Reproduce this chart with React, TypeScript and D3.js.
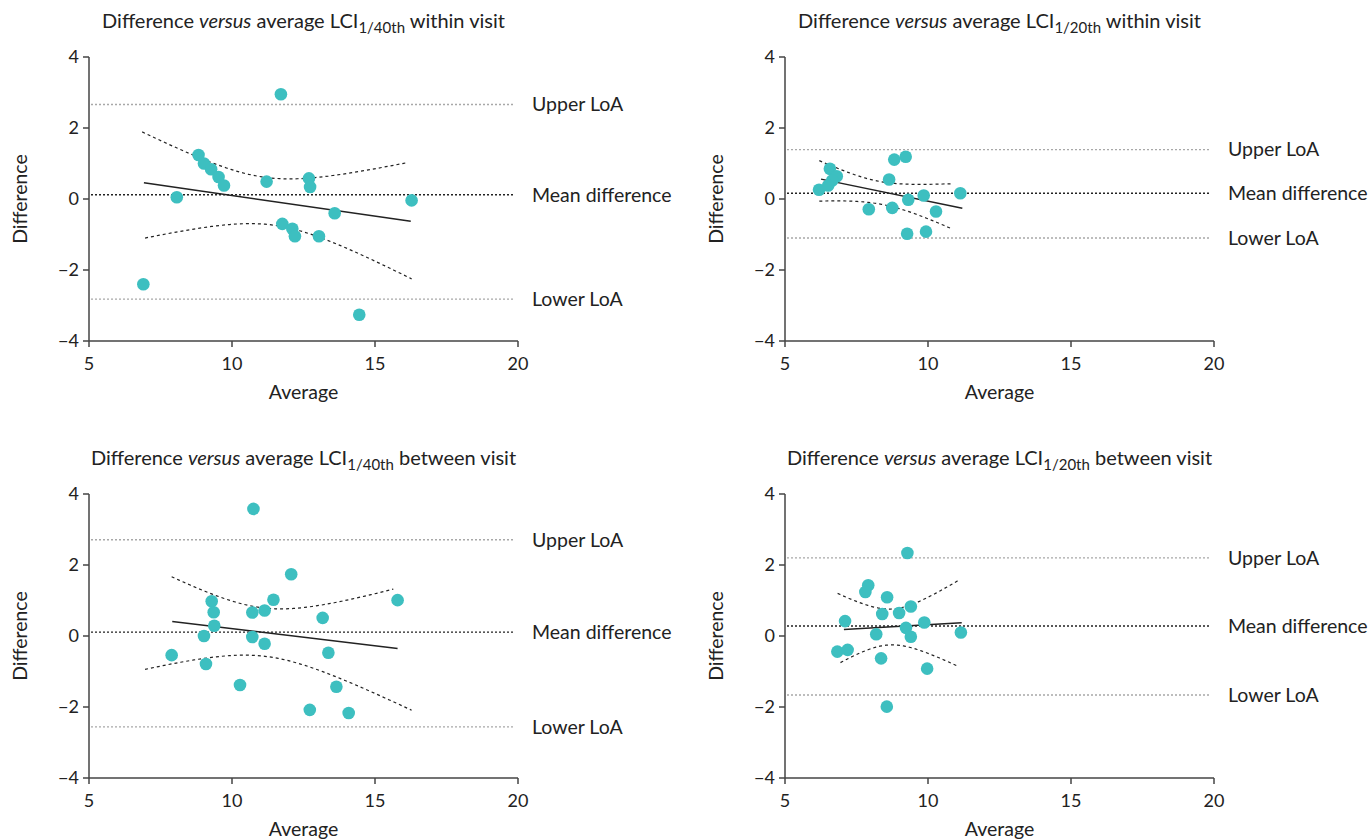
import React from 'react';
import * as d3 from 'd3';

// ---------- DATA ----------
const xTicks = [5, 10, 15, 20];
const yTicks = [-4, -2, 0, 2, 4];
const refLabels = ['Upper LoA', 'Mean difference', 'Lower LoA'];

// Panel 1: LCI 1/40th within visit
const p1X = [11.71, 6.9, 8.07, 8.83, 9.02, 9.27, 9.53, 9.72, 11.21, 12.69, 12.73, 13.59, 16.28, 11.76, 12.11, 12.2, 13.04, 14.45];
const p1Y = [2.95, -2.4, 0.05, 1.24, 1.0, 0.84, 0.62, 0.38, 0.49, 0.58, 0.34, -0.4, -0.04, -0.7, -0.84, -1.05, -1.05, -3.26];
const p1Ref = [2.66, 0.12, -2.82];
const p1Reg = [6.92, 0.46, 16.25, -0.63];
const p1CiUpX = [6.86, 12.26, 16.16];
const p1CiUpY = [1.89, 0.57, 1.03];
const p1CiLoX = [6.96, 10.28, 16.28];
const p1CiLoY = [-1.1, -0.7, -2.25];

// Panel 2: LCI 1/20th within visit
const p2X = [6.19, 6.57, 6.81, 6.65, 6.51, 8.64, 8.82, 9.22, 9.85, 11.13, 9.31, 7.93, 8.75, 10.28, 9.27, 9.93];
const p2Y = [0.26, 0.85, 0.64, 0.52, 0.38, 0.55, 1.11, 1.19, 0.1, 0.16, -0.02, -0.29, -0.25, -0.35, -0.98, -0.92];
const p2Ref = [1.39, 0.16, -1.1];
const p2Reg = [6.26, 0.56, 11.2, -0.26];
const p2CiUpX = [6.2, 8.15, 10.83];
const p2CiUpY = [1.08, 0.52, 0.43];
const p2CiLoX = [6.2, 8.15, 10.86];
const p2CiLoY = [-0.06, -0.12, -0.85];

// Panel 3: LCI 1/40th between visit
const p3X = [10.75, 12.07, 9.29, 11.45, 15.79, 9.36, 10.71, 11.14, 13.17, 9.38, 9.02, 10.71, 11.14, 7.89, 13.37, 9.09, 10.28, 13.65, 12.72, 14.08];
const p3Y = [3.58, 1.74, 0.98, 1.02, 1.01, 0.67, 0.66, 0.72, 0.51, 0.29, 0.0, -0.03, -0.22, -0.54, -0.47, -0.79, -1.38, -1.43, -2.08, -2.17];
const p3Ref = [2.71, 0.11, -2.56];
const p3Reg = [7.91, 0.41, 15.79, -0.35];
const p3CiUpX = [7.89, 12.03, 15.64];
const p3CiUpY = [1.67, 0.77, 1.32];
const p3CiLoX = [6.96, 10.28, 16.28];
const p3CiLoY = [-0.94, -0.54, -2.09];

// Panel 4: LCI 1/20th between visit
const p4X = [9.28, 7.91, 7.81, 8.57, 9.4, 8.4, 8.99, 7.1, 9.87, 9.23, 11.15, 8.19, 9.4, 6.83, 7.19, 8.36, 9.97, 8.56];
const p4Y = [2.34, 1.43, 1.24, 1.09, 0.83, 0.62, 0.65, 0.42, 0.38, 0.23, 0.1, 0.05, -0.02, -0.44, -0.39, -0.63, -0.92, -1.99];
const p4Ref = [2.2, 0.28, -1.66];
const p4Reg = [7.06, 0.18, 11.18, 0.37];
const p4CiUpX = [6.84, 8.72, 11.07];
const p4CiUpY = [1.2, 0.76, 1.57];
const p4CiLoX = [6.94, 8.79, 11.07];
const p4CiLoY = [-0.75, -0.25, -0.86];

// ---------- LAYOUT ----------
const FONT = 'Lato, "Open Sans", sans-serif';
const PW = 429;
const PH = 284;
const TEAL = '#3dbfc0';

type PanelDef = {
  left: number;
  top: number;
  sub: string;
  suffix: string;
  xs: number[];
  ys: number[];
  ref: number[];
  reg: number[];
  cuX: number[];
  cuY: number[];
  clX: number[];
  clY: number[];
};

const panels: PanelDef[] = [
  { left: 89, top: 57, sub: '1/40th', suffix: ' within visit', xs: p1X, ys: p1Y, ref: p1Ref, reg: p1Reg, cuX: p1CiUpX, cuY: p1CiUpY, clX: p1CiLoX, clY: p1CiLoY },
  { left: 785, top: 57, sub: '1/20th', suffix: ' within visit', xs: p2X, ys: p2Y, ref: p2Ref, reg: p2Reg, cuX: p2CiUpX, cuY: p2CiUpY, clX: p2CiLoX, clY: p2CiLoY },
  { left: 89, top: 494, sub: '1/40th', suffix: ' between visit', xs: p3X, ys: p3Y, ref: p3Ref, reg: p3Reg, cuX: p3CiUpX, cuY: p3CiUpY, clX: p3CiLoX, clY: p3CiLoY },
  { left: 785, top: 494, sub: '1/20th', suffix: ' between visit', xs: p4X, ys: p4Y, ref: p4Ref, reg: p4Reg, cuX: p4CiUpX, cuY: p4CiUpY, clX: p4CiLoX, clY: p4CiLoY },
];

// confidence-band curve: regression line +/- sqrt(quadratic fitted through three readings)
function bandCurve(reg: number[], cx: number[], cy: number[], sign: number): [number, number][] {
  const [x0, y0, x1, y1] = reg;
  const slope = (y1 - y0) / (x1 - x0);
  const L = (x: number) => y0 + slope * (x - x0);
  const h2 = cx.map((xv, i) => (cy[i] - L(xv)) ** 2);
  const q = (x: number) => {
    let s = 0;
    for (let i = 0; i < 3; i++) {
      let term = h2[i];
      for (let j = 0; j < 3; j++) if (j !== i) term *= (x - cx[j]) / (cx[i] - cx[j]);
      s += term;
    }
    return Math.max(s, 0);
  };
  return d3.range(0, 61).map((k) => {
    const x = cx[0] + ((cx[2] - cx[0]) * k) / 60;
    return [x, L(x) + sign * Math.sqrt(q(x))];
  });
}

const fmt = (v: number) => (v < 0 ? '\u2212' + Math.abs(v) : String(v));

function PanelView({ p }: { p: PanelDef }) {
  const x = d3.scaleLinear().domain([5, 20]).range([p.left, p.left + PW]);
  const y = d3.scaleLinear().domain([-4, 4]).range([p.top + PH, p.top]);
  const line = d3
    .line<[number, number]>()
    .x((d) => x(d[0]))
    .y((d) => y(d[1]));
  const up = bandCurve(p.reg, p.cuX, p.cuY, 1);
  const lo = bandCurve(p.reg, p.clX, p.clY, -1);
  const cx = p.left + PW / 2;
  const axisColor = '#444';
  const textColor = '#222';
  return (
    <g>
      {/* title */}
      <text x={cx} y={p.top - 29} textAnchor="middle" fontSize={20} fill={textColor} fontFamily={FONT}>
        {'Difference '}
        <tspan fontStyle="italic">versus</tspan>
        {' average LCI'}
        <tspan dy={5} fontSize={15}>
          {p.sub}
        </tspan>
        <tspan dy={-5}>{p.suffix}</tspan>
      </text>

      {/* reference lines */}
      {p.ref.map((v, i) => (
        <g key={'r' + i}>
          <line
            x1={x(5) + 2}
            x2={x(20) - 3}
            y1={y(v)}
            y2={y(v)}
            stroke={i === 1 ? '#222' : '#a8a8a8'}
            strokeWidth={1.4}
            strokeDasharray="2,2"
          />
          <text x={p.left + 443} y={y(v)} dy="0.35em" fontSize={19.5} fill={textColor} fontFamily={FONT}>
            {refLabels[i]}
          </text>
        </g>
      ))}

      {/* CI curves */}
      <path d={line(up) || ''} fill="none" stroke="#222" strokeWidth={1.2} strokeDasharray="3,3" />
      <path d={line(lo) || ''} fill="none" stroke="#222" strokeWidth={1.2} strokeDasharray="3,3" />

      {/* regression line */}
      <line x1={x(p.reg[0])} y1={y(p.reg[1])} x2={x(p.reg[2])} y2={y(p.reg[3])} stroke="#222" strokeWidth={1.5} />

      {/* points */}
      {p.xs.map((xv, i) => (
        <circle key={'c' + i} cx={x(xv)} cy={y(p.ys[i])} r={6.3} fill={TEAL} />
      ))}

      {/* axes */}
      <line x1={x(5)} x2={x(5)} y1={y(4)} y2={y(-4)} stroke={axisColor} strokeWidth={1.5} />
      <line x1={x(5)} x2={x(20)} y1={y(-4)} y2={y(-4)} stroke={axisColor} strokeWidth={1.5} />
      {yTicks.map((t) => (
        <g key={'yt' + t}>
          <line x1={x(5) - 6} x2={x(5)} y1={y(t)} y2={y(t)} stroke={axisColor} strokeWidth={1.5} />
          <text x={x(5) - 10} y={y(t)} dy="0.35em" textAnchor="end" fontSize={18} fill={textColor} fontFamily={FONT}>
            {fmt(t)}
          </text>
        </g>
      ))}
      {xTicks.map((t) => (
        <g key={'xt' + t}>
          <line x1={x(t)} x2={x(t)} y1={y(-4)} y2={y(-4) + 6} stroke={axisColor} strokeWidth={1.5} />
          <text x={x(t)} y={y(-4) + 29} textAnchor="middle" fontSize={18} fill={textColor} fontFamily={FONT}>
            {t}
          </text>
        </g>
      ))}
      <text x={cx} y={y(-4) + 58} textAnchor="middle" fontSize={19.5} fill={textColor} fontFamily={FONT}>
        Average
      </text>
      <text
        transform={`translate(${p.left - 69},${y(0)}) rotate(-90)`}
        textAnchor="middle"
        dy="0.35em"
        fontSize={19.5}
        fill={textColor}
        fontFamily={FONT}
      >
        Difference
      </text>
    </g>
  );
}

export default function App() {
  return (
    <svg
      width={1371}
      height={839}
      style={{ position: 'absolute', left: 0, top: 0, background: '#fff' }}
    >
      <rect width={1371} height={839} fill="#fff" />
      {panels.map((p, i) => (
        <PanelView key={i} p={p} />
      ))}
    </svg>
  );
}
